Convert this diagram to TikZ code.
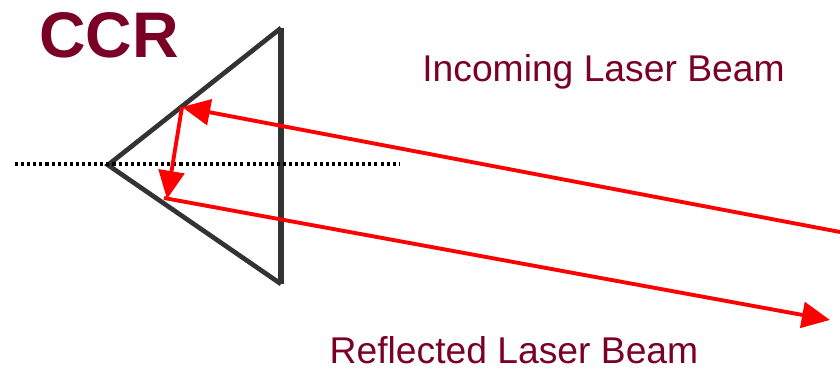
\documentclass[tikz,border=0pt]{standalone}
\usepackage{fontspec}
\setmainfont{Liberation Sans}
\usetikzlibrary{arrows.meta}
\definecolor{ccrtext}{HTML}{7A0026}
\definecolor{prismgray}{HTML}{333333}
\tikzset{
  prism/.style={prismgray, line width=4pt},
  beam/.style={red, line width=3.3pt, -{Triangle[length=24pt,width=22pt]}},
  axis/.style={black, line width=2.6pt, dash pattern=on 2.6pt off 2.6pt},
  label/.style={ccrtext, font=\fontsize{31.8}{36}\selectfont, inner sep=0pt},
}
\begin{document}
\begin{tikzpicture}[x=0.03cm,y=-0.03cm]
  \useasboundingbox (0,0) rectangle (840,369);

  % Points on prism
  \coordinate (O) at (108,165);
  \coordinate (T) at (281,28);
  \coordinate (U) at (281,284);

  % Points on beams
  \coordinate (A) at (182,107);
  \coordinate (B) at (167,199);
  \coordinate (C) at (840,232);
  \coordinate (D) at (164,198);
  \coordinate (E) at (830,320);

  % Axis ends
  \coordinate (L) at (15,164);
  \coordinate (R) at (400,164);

  % Prism
  \draw[prism, miter limit=4] (T) -- (O) -- (U);
  \draw[prism, line width=4.4pt] (T) -- (U);

  % Axis
  \draw[axis] (L) -- (R);

  % Beams
  \draw[beam] (C) -- (A);
  \draw[beam] (A) -- (B);
  \draw[beam] (D) -- (E);

  % Labels
  \node[ccrtext, font=\fontsize{55}{60}\selectfont\bfseries, inner sep=0pt] (ccr) at (109,35) {CCR};
  \node[label] (incoming) at (603.5,72) {Incoming Laser Beam};
  \node[label] (reflected) at (514,350) {Reflected Laser Beam};

\end{tikzpicture}
\end{document}
